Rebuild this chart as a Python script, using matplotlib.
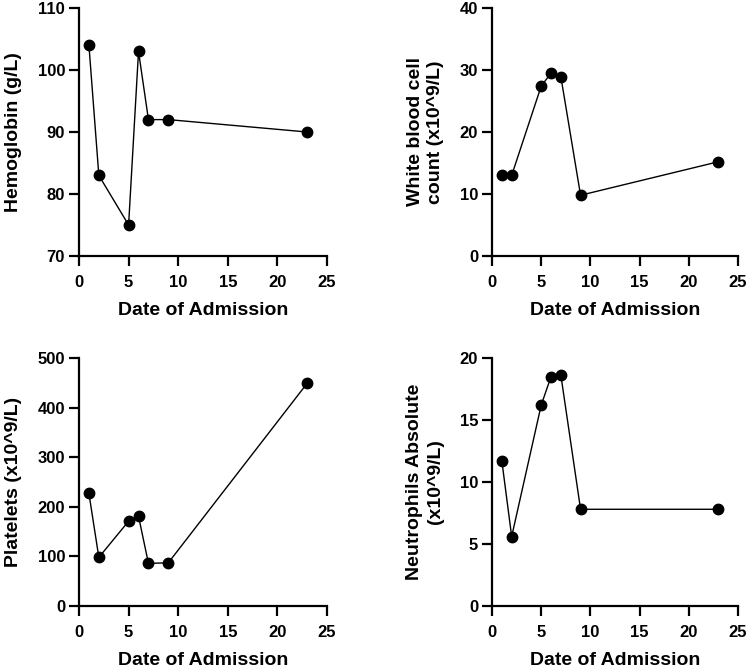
import matplotlib
matplotlib.use('Agg')
import matplotlib.pyplot as plt

plt.rcParams['font.family'] = ['Liberation Sans', 'DejaVu Sans']
plt.rcParams['font.weight'] = 'bold'

# Data
days = [1, 2, 5, 6, 7, 9, 23]
hemoglobin = [104, 83, 75, 103, 92, 92, 90]
wbc = [13.0, 13.0, 27.4, 29.5, 28.9, 9.8, 15.2]
platelets = [227, 98, 171, 181, 86, 87, 449]
neutrophils = [11.7, 5.6, 16.2, 18.5, 18.6, 7.8, 7.8]

panels = [
    (hemoglobin, 'Hemoglobin (g/L)', (70, 110), 10),
    (wbc, 'White blood cell\ncount (x10^9/L)', (0, 40), 10),
    (platelets, 'Platelets (x10^9/L)', (0, 500), 100),
    (neutrophils, 'Neutrophils Absolute\n(x10^9/L)', (0, 20), 5),
]

W, H = 750, 670
# axes boxes in pixels: left, top, right, bottom
boxes = [
    (79, 8, 327, 256),
    (492, 8, 738, 256),
    (79, 358, 327, 606),
    (492, 358, 738, 606),
]

fig = plt.figure(figsize=(W / 100, H / 100), dpi=100)

for (values, ylabel, ylim, step), (l, t, r, b) in zip(panels, boxes):
    ax = fig.add_axes([l / W, (H - b) / H, (r - l) / W, (b - t) / H])
    ax.plot(days, values, color='black', linewidth=1.0, marker='o',
            markersize=7.5, clip_on=False, zorder=3)
    ax.set_xlim(0, 25)
    ax.set_ylim(*ylim)
    ax.set_xticks(range(0, 26, 5))
    ax.set_yticks(range(ylim[0], ylim[1] + 1, step))
    for side in ['top', 'right']:
        ax.spines[side].set_visible(False)
    for side in ['left', 'bottom']:
        ax.spines[side].set_linewidth(1.6)
    ax.tick_params(width=1.6, length=7, labelsize=12, direction='out')
    ax.tick_params(axis='x', pad=7)
    ax.tick_params(axis='y', pad=3)
    for lab in ax.get_xticklabels() + ax.get_yticklabels():
        lab.set_fontweight('bold')
    ax.set_xlabel('Date of Admission', fontsize=14, fontweight='bold', labelpad=8)
    ax.set_ylabel(ylabel, fontsize=14, fontweight='bold', labelpad=11,
                  linespacing=1.3)

fig.savefig('out.png', dpi=100)
